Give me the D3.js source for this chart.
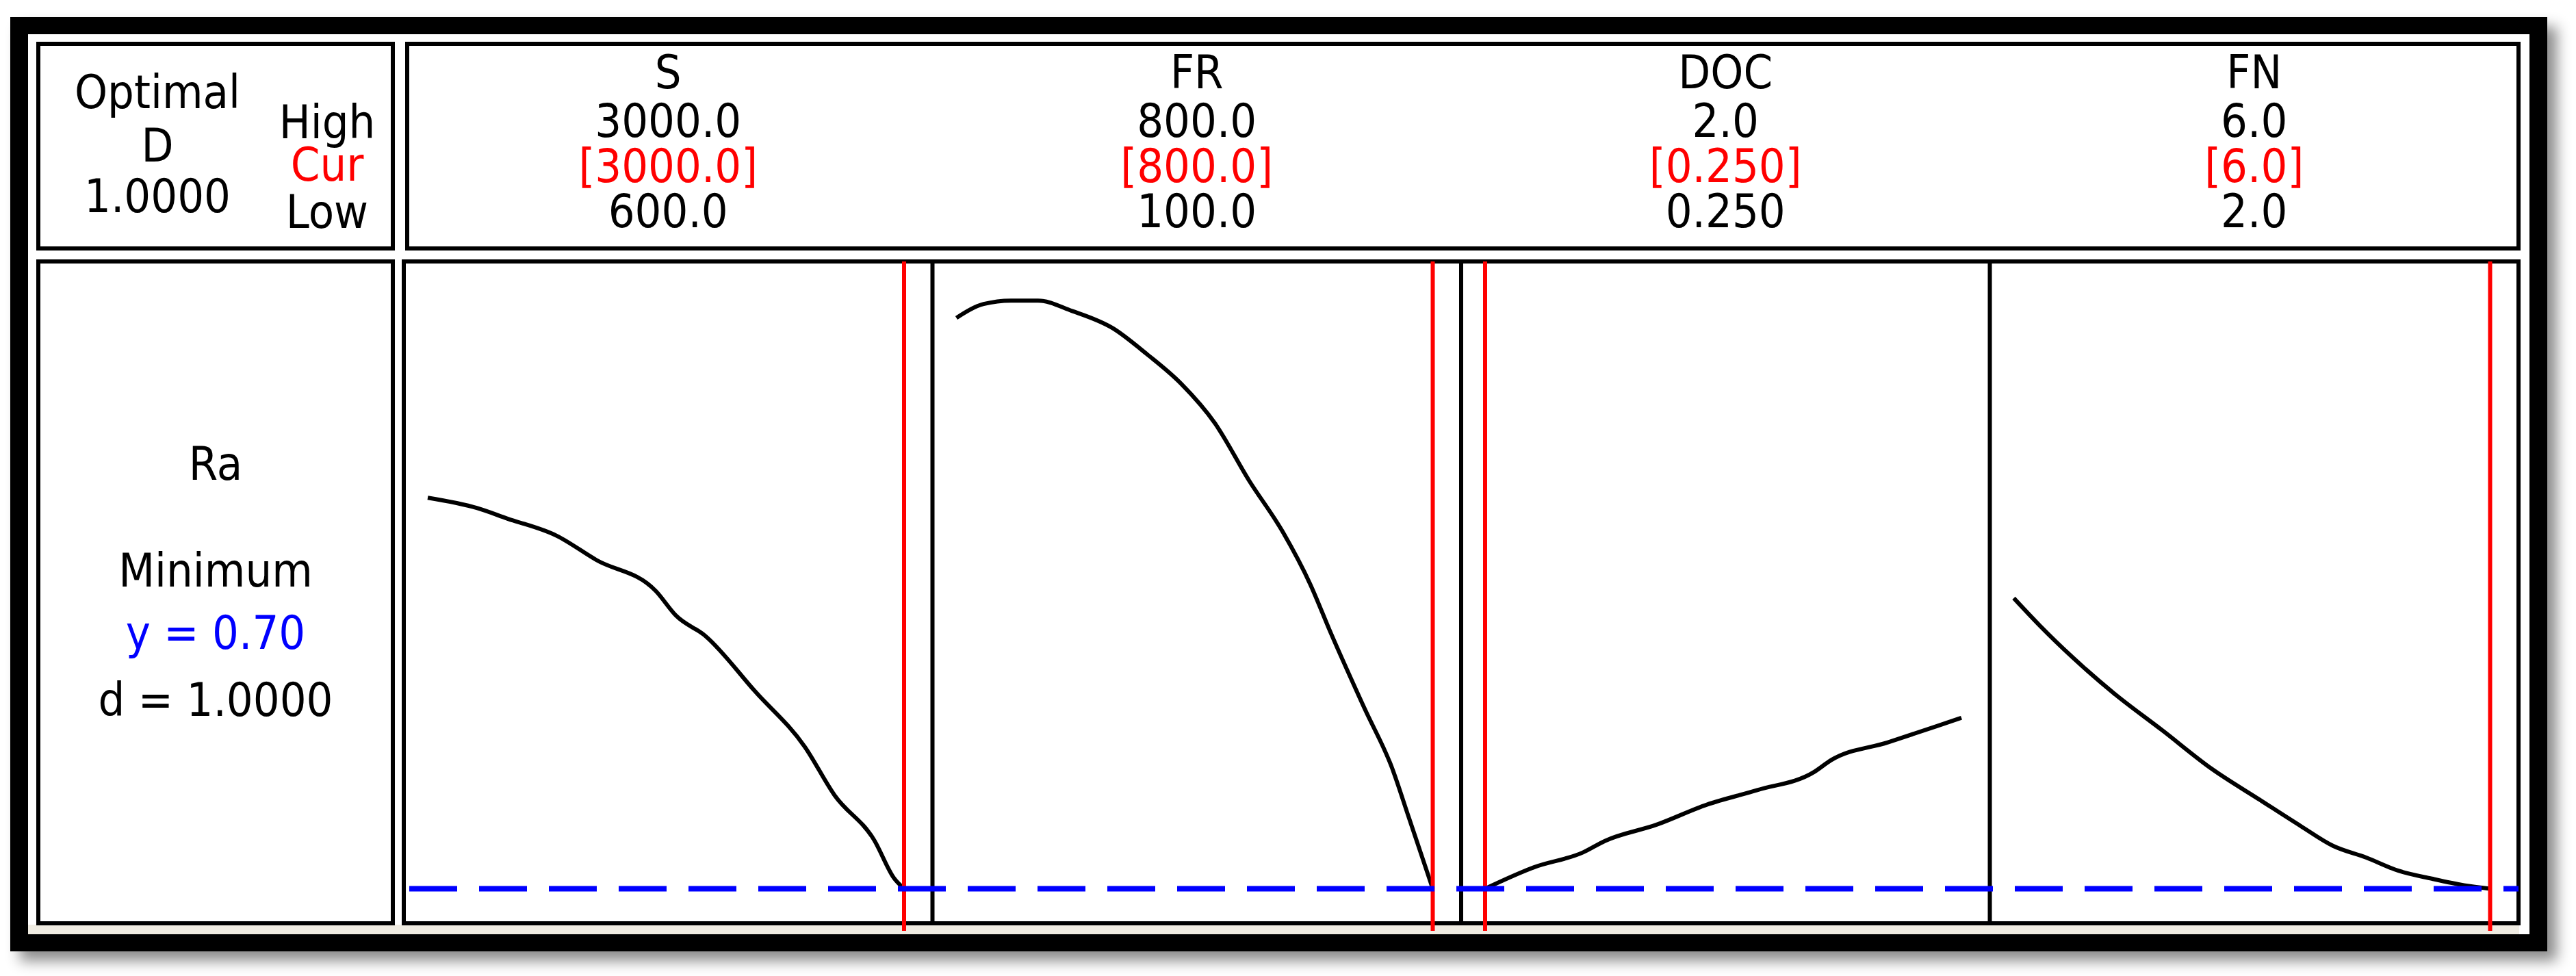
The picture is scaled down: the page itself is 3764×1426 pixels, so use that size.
<!DOCTYPE html>
<html><head><meta charset="utf-8">
<script src="https://cdn.jsdelivr.net/npm/d3@7"></script>
<style>body{margin:0;background:#fff}svg{display:block}</style>
</head><body>
<script>
const factors = ["S","FR","DOC","FN"];
const highs = ["3000.0","800.0","2.0","6.0"];
const curs = ["[3000.0]","[800.0]","[0.250]","[6.0]"];
const lows = ["600.0","100.0","0.250","2.0"];
const domains = [[600,3000],[100,800],[0.25,2.0],[2,6]];
const curValues = [3000,800,0.25,6];
const targetY = 0.70;
const curveS = [[600,1.83],[850,1.80],[1000,1.77],[1250,1.72],[1450,1.65],[1750,1.56],[1850,1.49],[2000,1.43],[2250,1.27],[2500,1.11],[2650,0.97],[2850,0.84],[2950,0.73],[3000,0.70]];
const curveFR = [[100,2.35],[140,2.39],[180,2.40],[220,2.40],[270,2.37],[330,2.32],[380,2.245],[430,2.16],[480,2.045],[530,1.88],[580,1.73],[620,1.58],[650,1.44],[700,1.22],[740,1.05],[765,0.905],[800,0.70]];
const curveDOC = [[0.25,0.70],[0.43,0.762],[0.61,0.805],[0.69,0.838],[0.88,0.885],[1.065,0.943],[1.25,0.985],[1.46,1.038],[1.52,1.071],[1.73,1.123],[1.91,1.17],[2.0,1.194]];
const curveFN = [[2,1.54],[2.22,1.46],[2.49,1.37],[2.84,1.265],[3.25,1.157],[3.66,1.047],[4.07,0.956],[4.41,0.881],[4.68,0.824],[4.96,0.79],[5.23,0.752],[5.51,0.729],[5.78,0.71],[6,0.70]];
const curves = [curveS,curveFR,curveDOC,curveFN];
const leftLabels = ["Optimal","D","1.0000"];
const hclLabels = ["High","Cur","Low"];
const respLabels = ["Ra","Minimum","y = 0.70","d = 1.0000"];

const W=3764,H=1426;
const svg=d3.select("body").append("svg").attr("width",W).attr("height",H);
const font="DejaVu Sans Condensed, DejaVu Sans, sans-serif";
const defs=svg.append("defs");
const f=defs.append("filter").attr("id","sh").attr("x","-5%").attr("y","-5%").attr("width","110%").attr("height","115%");
f.append("feDropShadow").attr("dx",14).attr("dy",14).attr("stdDeviation",10).attr("flood-color","#000").attr("flood-opacity",0.45);
svg.append("rect").attr("x",15).attr("y",25).attr("width",3707).attr("height",1365).attr("fill","#000").attr("filter","url(#sh)");
svg.append("rect").attr("x",41).attr("y",50).attr("width",3655).attr("height",1315).attr("fill","#fff");
svg.append("rect").attr("x",41).attr("y",1351).attr("width",3640).attr("height",14).attr("fill","#f0ece2");

function box(x,y,w,h){svg.append("rect").attr("x",x).attr("y",y).attr("width",w).attr("height",h).attr("fill","#fff").attr("stroke","#000").attr("stroke-width",6);}
const top0=64, top1=363, bot0=382, bot1=1349;
const px0=590, px1=3680, pw=(px1-px0)/4;
box(56,top0,518,top1-top0);
box(595,top0,px1-595,top1-top0);
box(56,bot0,518,bot1-bot0);
box(px0,bot0,px1-px0,bot1-bot0);

function txt(x,y,s,fill,size,anchor){svg.append("text").attr("x",x).attr("y",y).attr("text-anchor",anchor||"middle").attr("font-family",font).attr("font-stretch","condensed").attr("font-size",size||68).attr("fill",fill||"#000").text(s);}
[158,236,310].forEach((y,i)=>txt(230,y,leftLabels[i]));
[202,264,333].forEach((y,i)=>txt(478,y,hclLabels[i],i==1?"#f00":"#000"));
[701,857,948,1046].forEach((y,i)=>txt(315,y,respLabels[i],i==2?"#00f":"#000",68));

const y=d3.scaleLinear().domain([0.6,2.517]).range([1349,380]);
factors.forEach((name,i)=>{
  const L=px0+i*pw;
  const cx=L+pw/2;
  txt(cx,129,name); txt(cx,200,highs[i]); txt(cx,266,curs[i],"#f00"); txt(cx,332,lows[i]);
  if(i>0) svg.append("line").attr("x1",L).attr("x2",L).attr("y1",bot0).attr("y2",bot1).attr("stroke","#000").attr("stroke-width",6);
  const x=d3.scaleLinear().domain(domains[i]).range([L+35,L+731]);
  svg.append("path").datum(curves[i]).attr("d",d3.line().curve(d3.curveMonotoneX).x(d=>x(d[0])).y(d=>y(d[1]))).attr("fill","none").attr("stroke","#000").attr("stroke-width",6).attr("stroke-linejoin","round");
  svg.append("line").attr("x1",x(curValues[i])).attr("x2",x(curValues[i])).attr("y1",bot0).attr("y2",1360).attr("stroke","#f00").attr("stroke-width",6);
});
svg.append("line").attr("x1",px0+8).attr("x2",px1).attr("y1",y(targetY)).attr("y2",y(targetY)).attr("stroke","#00f").attr("stroke-width",8).attr("stroke-dasharray","70,32");
</script>
</body></html>
